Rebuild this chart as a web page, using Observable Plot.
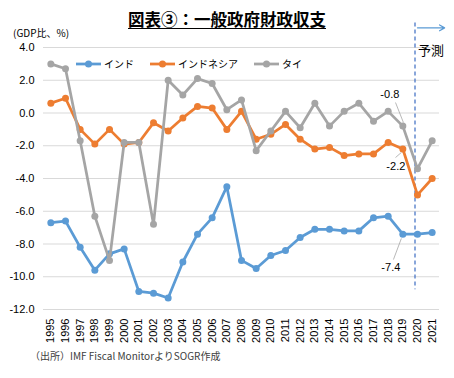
<!DOCTYPE html>
<html><head><meta charset="utf-8">
<script src="https://cdn.jsdelivr.net/npm/d3@7"></script>
<script src="https://cdn.jsdelivr.net/npm/@observablehq/plot@0.6"></script>
<style>
body{margin:0;background:#fff;}
#wrap{position:relative;width:454px;height:378px;overflow:hidden;font-family:"Liberation Sans",Arial,sans-serif;}
.abs{position:absolute;white-space:nowrap;line-height:1;}
.jp{font-family:"Noto Sans CJK JP","Noto Sans",sans-serif;}
.leg{position:absolute;top:56px;display:flex;align-items:center;font-size:10px;color:#000;}
.leg svg{margin-right:3px;}
</style></head><body><div id="wrap"></div>
<script>
const years = [1995,1996,1997,1998,1999,2000,2001,2002,2003,2004,2005,2006,2007,2008,2009,2010,2011,2012,2013,2014,2015,2016,2017,2018,2019,2020,2021];
const india = [-6.7,-6.6,-8.2,-9.6,-8.6,-8.3,-10.9,-11.0,-11.3,-9.1,-7.4,-6.4,-4.5,-9.0,-9.5,-8.7,-8.4,-7.6,-7.1,-7.1,-7.2,-7.2,-6.4,-6.3,-7.4,-7.4,-7.3];
const indonesia = [0.6,0.9,-1.0,-1.9,-1.0,-1.9,-1.8,-0.6,-1.1,-0.3,0.4,0.3,-1.0,0.1,-1.6,-1.3,-0.7,-1.6,-2.2,-2.1,-2.6,-2.5,-2.5,-1.8,-2.2,-5.0,-4.0];
const thailand = [3.0,2.7,-1.7,-6.3,-9.0,-1.8,-1.8,-6.8,2.0,1.1,2.1,1.8,0.2,0.8,-2.3,-1.1,0.1,-0.9,0.6,-0.8,0.1,0.6,-0.5,0.1,-0.8,-3.4,-1.7];
const seriesNames = ["インド","インドネシア","タイ"];
const seriesColors = ["#5b9bd5","#ed7d31","#a5a5a5"];
const yTicks = [4,2,0,-2,-4,-6,-8,-10,-12];
const forecastStart = 2020;
// labelled values: [year, value, series index]
const labels = [[2019,-0.8,2],[2019,-2.2,1],[2019,-7.4,0]];
const labelOffsets = [[-13,-32],[-7,17.5],[-12,33]];
// leader lines in data units: [x1,y1,x2,y2]
const leaders = [[2019.04,-0.58,2018.5,0.64],[2018.9,-2.41,2018.5,-2.72],[2018.9,-7.66,2018.36,-8.95]];

const allSeries = [india, indonesia, thailand];
const rows = allSeries.map((vals, s) => years.map((y, i) => ({year:y, value:vals[i], s})));

const marks = [
  Plot.gridY(yTicks, {stroke:"#d9d9d9", strokeOpacity:1, strokeWidth:1}),
  Plot.axisY(yTicks, {tickSize:0, tickPadding:9, tickFormat:d=>d.toFixed(1), fontSize:11, fill:"#000", label:null}),
  Plot.axisX(years, {tickSize:0, tickRotate:-90, tickPadding:9, tickFormat:d=>String(d), fontSize:11, fill:"#000", label:null}),
  Plot.ruleX([forecastStart], {x:d=>d, y1:5.5, y2:-10.8, dx:-2.5, stroke:"#4472c4", strokeWidth:1.25, strokeDasharray:"4,3"}),
  Plot.arrow([forecastStart], {x1:d=>d, x2:2021.85, y1:5.2, y2:5.2, stroke:"#5b9bd5", strokeWidth:1.25, headLength:7, bend:0})
];
rows.forEach((r, s) => {
  marks.push(Plot.line(r, {x:"year", y:"value", stroke:seriesColors[s], strokeWidth:2.75}));
  marks.push(Plot.dot(r, {x:"year", y:"value", fill:seriesColors[s], r:3.5}));
});
marks.push(Plot.link(leaders, {x1:d=>d[0], y1:d=>d[1], x2:d=>d[2], y2:d=>d[3], stroke:"#a6a6a6", strokeWidth:0.8}));
labels.forEach((l, i) => {
  marks.push(Plot.text([l], {x:d=>d[0], y:d=>d[1], text:d=>d[1].toFixed(1), dx:labelOffsets[i][0], dy:labelOffsets[i][1], fontSize:11, fill:"#000"}));
});

const chart = Plot.plot({
  width:454, height:378,
  marginTop:47, marginBottom:69, marginLeft:43, marginRight:15,
  x:{type:"linear", domain:[1994.5, 2021.5], label:null},
  y:{domain:[-12,4], label:null},
  style:{fontFamily:"'Liberation Sans', Arial, sans-serif", fontSize:"11px", color:"#000", background:"transparent", overflow:"visible"},
  marks
});
const wrap = document.getElementById("wrap");
wrap.appendChild(chart);
chart.style.position = "absolute"; chart.style.left = "0"; chart.style.top = "0";

function addText(txt, css, cls){
  const d = document.createElement("div");
  d.className = "abs " + (cls||"");
  d.textContent = txt;
  Object.assign(d.style, css);
  wrap.appendChild(d);
}
addText("図表③：一般政府財政収支", {left:"0", width:"454px", textAlign:"center", top:"11px", fontSize:"16.5px", fontWeight:"700", textDecoration:"underline", textUnderlineOffset:"2px"}, "jp");
addText("(GDP比、%)", {left:"13px", top:"28px", fontSize:"10px"}, "jp");
addText("予測", {left:"418px", top:"43px", fontSize:"13px"}, "jp");
addText("（出所）IMF Fiscal MonitorよりSOGR作成", {left:"30px", top:"351px", fontSize:"10px", color:"#404040"}, "jp");

const legLeft = [76, 150, 254];
seriesNames.forEach((n, i) => {
  const d = document.createElement("div");
  d.className = "leg jp";
  d.style.left = legLeft[i] + "px";
  d.innerHTML = `<svg width="25" height="10"><line x1="0" y1="5" x2="25" y2="5" stroke="${seriesColors[i]}" stroke-width="2.75"/><circle cx="12.5" cy="5" r="3.5" fill="${seriesColors[i]}"/></svg><span>${n}</span>`;
  wrap.appendChild(d);
});
</script>
</body></html>
